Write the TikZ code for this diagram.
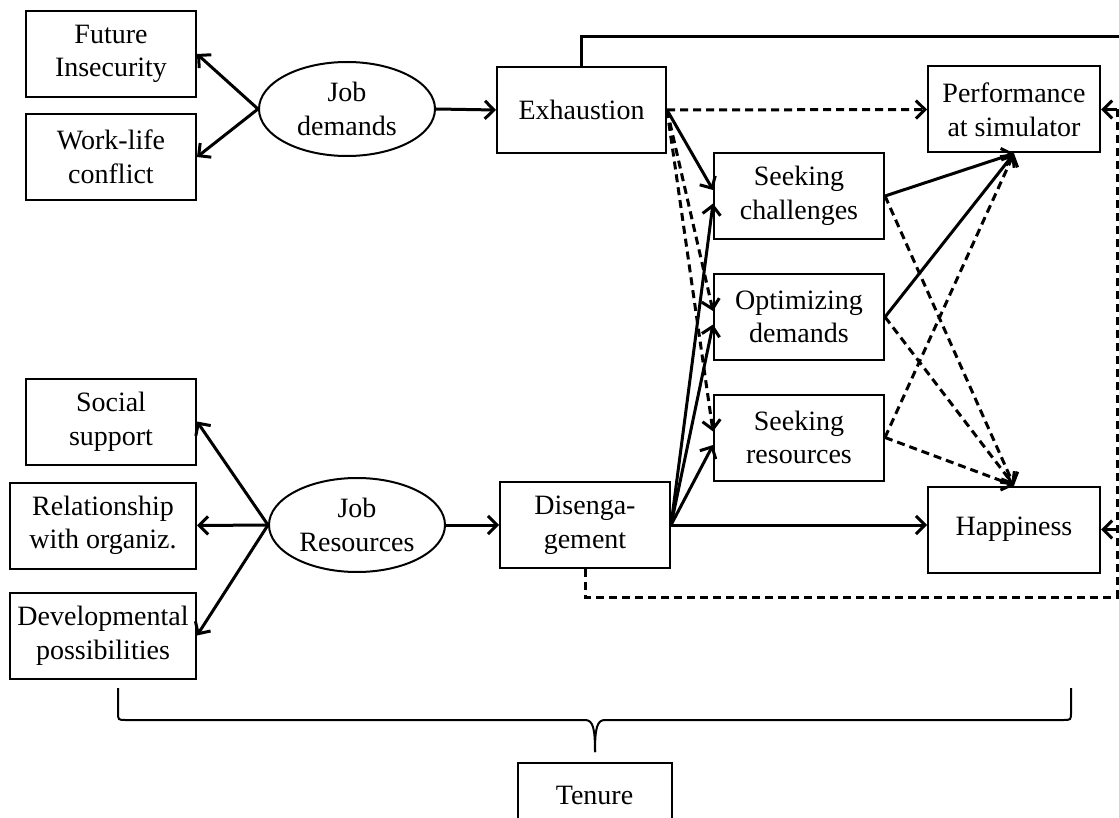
\documentclass[tikz,border=0pt]{standalone}
\usepackage{fontspec}
\setmainfont{Liberation Serif}
\usetikzlibrary{arrows.meta,shapes.geometric}
\begin{document}
\begin{tikzpicture}[x=0.5pt,y=-0.5pt,
  font=\fontsize{14}{16.8}\selectfont,
  box/.style={draw,line width=1pt,inner sep=0pt,align=center,minimum height=43pt,minimum width=85pt},
  wide/.style={minimum width=93pt},
  ell/.style={draw,ellipse,line width=1pt,inner sep=0pt,align=center,minimum width=88pt,minimum height=47pt},
  conn/.style={line width=1.5pt,-{Straight Barb[length=4.5pt,width=9pt]}},
  dconn/.style={conn,dash pattern=on 4pt off 2.5pt},
  route/.style={line width=1.5pt},
  droute/.style={route,dash pattern=on 4pt off 2.5pt},
  bracel/.style={line width=1pt}]
\useasboundingbox (0,0) rectangle (1119,818);
% nodes
\node[box] (fut) at (111,54) {Future\\Insecurity};
\node[box] (wlc) at (111,157) {Work-life\\conflict};
\node[ell] (jd) at (347,109) {Job\\demands};
\node[box,minimum width=84.5pt] (exh) at (581.5,110) {Exhaustion};
\node[box,minimum width=86pt] (perf) at (1014,109.5) {Performance\\at simulator};
\node[box] (sc) at (799,196) {Seeking\\challenges};
\node[box] (od) at (799,317) {Optimizing\\demands};
\node[box] (sr) at (799,437.5) {Seeking\\resources};
\node[box,minimum width=86pt] (hap) at (1014,529.5) {Happiness};
\node[box] (dis) at (585,525) {Disenga-\\gement};
\node[box] (ss) at (111,421.5) {Social\\support};
\node[box,wide] (rel) at (103,525.5) {Relationship\\with organiz.};
\node[box,wide] (dev) at (103,635.5) {Developmental\\possibilities};
\node[ell] (jr) at (357,525) {Job\\Resources};
\node[box,minimum width=77pt,minimum height=32pt] (ten) at (594.5,795) {Tenure};
% route coordinates
\coordinate (top) at (0,37);
\coordinate (rx) at (1117,0);
\coordinate (ry) at (0,597);
\coordinate (far) at (1135,0);
% left side
\draw[conn] (jd.west) -- (fut.east);
\draw[conn] (jd.west) -- (wlc.east);
\draw[conn] (jd.east) -- (exh.west);
\draw[conn] (jr.west) -- (ss.east);
\draw[conn] (jr.west) -- (rel.east);
\draw[conn] (jr.west) -- (dev.east);
\draw[conn] (jr.east) -- (dis.west);
% exhaustion
\draw[dconn] (exh.east) -- (perf.west);
\draw[conn] (exh.east) -- (sc.176);
\draw[dconn] (exh.east) -- (od.176);
\draw[dconn] (exh.east) -- (sr.176);
% disengagement
\draw[conn] (dis.east) -- (sc.185);
\draw[conn] (dis.east) -- (od.185);
\draw[conn] (dis.east) -- (sr.185);
\draw[conn] (dis.east) -- (hap.west |- dis.east);
% strategies to outcomes
\draw[conn] (sc.east) -- (perf.south);
\draw[dconn] (sc.east) -- (hap.north);
\draw[conn] (od.east) -- (perf.south);
\draw[dconn] (od.east) -- (hap.north);
\draw[dconn] (sr.east) -- (perf.south);
\draw[dconn] (sr.east) -- (hap.north);
% long routes
\draw[route] (exh.north) -- (exh.north |- top) -- (far |- top);
\draw[droute] (dis.south) -- (dis.south |- ry) -- (rx |- ry) -- (rx |- perf.east);
\draw[conn] (rx |- perf.east) -- (perf.east);
\draw[conn] (rx |- hap.east) -- (hap.east);
% brace
\draw[bracel] (118,688) -- (118,712) .. controls (118,720) .. (126,720) -- (585,720)
  .. controls (593,720) and (595,728) .. (595,752);
\draw[bracel] (1071,688) -- (1071,712) .. controls (1071,720) .. (1063,720) -- (605,720)
  .. controls (597,720) and (595,728) .. (595,752);
\end{tikzpicture}
\end{document}
